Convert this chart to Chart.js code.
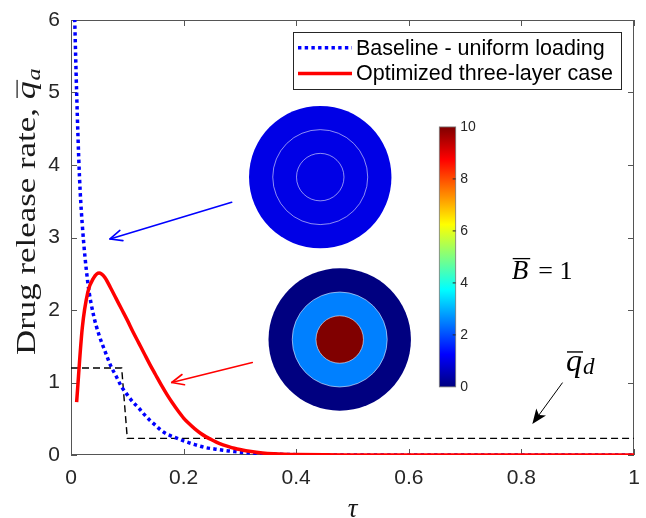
<!DOCTYPE html>
<html><head><meta charset="utf-8">
<script src="https://cdn.jsdelivr.net/npm/chart.js@4.4.1/dist/chart.umd.min.js"></script>
<style>html,body{margin:0;padding:0;background:#fff}canvas{display:block}</style>
</head><body>
<canvas id="c" width="646" height="518"></canvas>
<script>
// ---------- data ----------
const baselineTau = [0.006,0.01,0.015,0.02,0.03,0.04,0.05,0.06,0.07,0.08,0.09,0.10,0.11,0.12,0.13,0.14,0.15,0.16,0.17,0.18,0.19,0.20,0.21,0.22,0.23,0.24,0.25,0.26,0.27,0.28,0.29,0.30,0.32,0.34,0.36,0.38,0.40,0.45,0.50,0.60,0.70,0.80,0.90,1.00];
const baselineRate = [6.2,5.0,3.85,3.18,2.37,1.93,1.65,1.44,1.24,1.09,0.94,0.83,0.73,0.65,0.56,0.48,0.41,0.34,0.29,0.255,0.225,0.195,0.168,0.143,0.12,0.10,0.088,0.077,0.066,0.056,0.047,0.039,0.027,0.018,0.012,0.008,0.005,0.002,0.001,0,0,0,0,0];
const optimizedTau = [0.01,0.02,0.03,0.04,0.05,0.06,0.07,0.08,0.09,0.10,0.11,0.12,0.13,0.14,0.15,0.16,0.17,0.18,0.19,0.20,0.21,0.22,0.23,0.24,0.25,0.26,0.27,0.28,0.29,0.30,0.32,0.34,0.36,0.38,0.40,0.45,0.50,0.60,0.70,0.80,0.90,1.00];
const optimizedRate = [0.73,1.75,2.25,2.44,2.51,2.45,2.31,2.16,2.01,1.86,1.70,1.55,1.40,1.25,1.11,0.97,0.84,0.72,0.61,0.51,0.43,0.36,0.30,0.25,0.21,0.17,0.14,0.115,0.093,0.075,0.047,0.029,0.018,0.011,0.007,0.002,0.001,0,0,0,0,0];
const targetTau = [0, 0.09, 0.10, 1.0];
const targetRate = [1.2, 1.2, 0.23, 0.23];
const seriesNames = ['Baseline - uniform loading', 'Optimized three-layer case'];
const xTicks = [0, 0.2, 0.4, 0.6, 0.8, 1];
const xTickLabels = ['0', '0.2', '0.4', '0.6', '0.8', '1'];
const yTicks = [0, 1, 2, 3, 4, 5, 6];
const yTickLabels = ['0', '1', '2', '3', '4', '5', '6'];
const colorbarTicks = [0, 2, 4, 6, 8, 10];
const colorbarLabels = ['0', '2', '4', '6', '8', '10'];
const baselineLayers = [1, 1, 1];      // outer, middle, inner loading
const optimizedLayers = [0, 2.5, 10];  // outer, middle, inner loading
const paramLabel = 'B';
const paramValue = '= 1';
const targetLabel = 'q';
const targetSub = 'd';
const yTitleText = 'Drug release rate, ';
const yTitleSym = 'q';
const yTitleSub = 'a';
const xTitleText = 'τ';

// ---------- styling / layout ----------
const SANS = '"Liberation Sans", Arial, Helvetica, sans-serif';
const SERIF = '"Liberation Serif", "Times New Roman", serif';
const AX = '#262626';

function jet(v) {
  const t = Math.max(0, Math.min(1, v / 10));
  const c = x => Math.round(255 * Math.max(0, Math.min(1, 1.5 - Math.abs(x))));
  return `rgb(${c(4 * t - 3)},${c(4 * t - 2)},${c(4 * t - 1)})`;
}
function toXY(arrX, arrY) { return arrX.map((x, i) => ({ x, y: arrY[i] })); }

function arrow(ctx, x1, y1, x2, y2, color, lw, head, filled) {
  const a = Math.atan2(y2 - y1, x2 - x1);
  ctx.save();
  ctx.strokeStyle = color; ctx.fillStyle = color; ctx.lineWidth = lw; ctx.lineCap = 'round'; ctx.lineJoin = 'round';
  if (filled) {
    const bx = x2 - head * 0.75 * Math.cos(a), by = y2 - head * 0.75 * Math.sin(a);
    ctx.beginPath(); ctx.moveTo(x1, y1); ctx.lineTo(bx, by); ctx.stroke();
    const w = head * 0.4;
    const rx = x2 - head * Math.cos(a), ry = y2 - head * Math.sin(a);
    ctx.beginPath();
    ctx.moveTo(x2, y2);
    ctx.lineTo(rx + w * Math.sin(a), ry - w * Math.cos(a));
    ctx.lineTo(bx, by);
    ctx.lineTo(rx - w * Math.sin(a), ry + w * Math.cos(a));
    ctx.closePath(); ctx.fill();
  } else {
    ctx.beginPath(); ctx.moveTo(x1, y1); ctx.lineTo(x2, y2); ctx.stroke();
    const s = 0.42;
    ctx.beginPath();
    ctx.moveTo(x2 - head * Math.cos(a - s), y2 - head * Math.sin(a - s));
    ctx.lineTo(x2, y2);
    ctx.lineTo(x2 - head * Math.cos(a + s), y2 - head * Math.sin(a + s));
    ctx.stroke();
  }
  ctx.restore();
}

// inset / annotation anchors (in data units tau, q)
const anchors = {
  diskTop: [0.4427, 3.833],
  diskBottom: [0.4773, 1.593],
  cbarTopLeft: [0.6542, 4.525],
  cbarBottomRight: [0.6833, 0.9395],
  arrowBlue: [[0.2854, 3.485], [0.0693, 2.98]],
  arrowRed: [[0.322, 1.275], [0.1789, 1.0]],
  arrowBlack: [[0.8727, 0.9945], [0.8194, 0.426]],
  paramText: [0.7828, 2.428],
  targetText: [0.8792, 1.162]
};

const decorPlugin = {
  id: 'decor',
  beforeDatasetsDraw(chart) {
    const ctx = chart.ctx, ca = chart.chartArea, xs = chart.scales.x, ys = chart.scales.y;
    ctx.save();
    // box
    ctx.strokeStyle = '#555'; ctx.lineWidth = 1;
    ctx.strokeRect(Math.round(ca.left) + 0.5, Math.round(ca.top) + 0.5, Math.round(ca.right - ca.left) - 1, Math.round(ca.bottom - ca.top) - 1);
    // inward ticks
    ctx.beginPath();
    const tl = 6;
    xTicks.forEach(v => {
      const p = Math.round(xs.getPixelForValue(v)) + 0.5;
      ctx.moveTo(p, ca.bottom); ctx.lineTo(p, ca.bottom - tl);
      ctx.moveTo(p, ca.top); ctx.lineTo(p, ca.top + tl);
    });
    yTicks.forEach(v => {
      const p = Math.round(ys.getPixelForValue(v)) + 0.5;
      ctx.moveTo(ca.left, p); ctx.lineTo(ca.left + tl, p);
      ctx.moveTo(ca.right, p); ctx.lineTo(ca.right - tl, p);
    });
    ctx.stroke();

    // disks
    const P = (a) => [xs.getPixelForValue(a[0]), ys.getPixelForValue(a[1])];
    const R = 0.1265 * (ca.right - ca.left);
    const drawDisk = (c, layers) => {
      const [cx, cy] = P(c);
      [1, 2 / 3, 1 / 3].forEach((f, i) => {
        ctx.beginPath(); ctx.arc(cx, cy, R * f, 0, Math.PI * 2); ctx.fillStyle = jet(layers[i]); ctx.fill();
      });
      ctx.strokeStyle = 'rgba(255,255,255,0.55)'; ctx.lineWidth = 1;
      [2 / 3, 1 / 3].forEach(f => { ctx.beginPath(); ctx.arc(cx, cy, R * f, 0, Math.PI * 2); ctx.stroke(); });
    };
    drawDisk(anchors.diskTop, baselineLayers);
    drawDisk(anchors.diskBottom, optimizedLayers);

    // colorbar
    const [l, t] = P(anchors.cbarTopLeft), [r, b] = P(anchors.cbarBottomRight);
    const g = ctx.createLinearGradient(0, b, 0, t);
    for (let i = 0; i <= 64; i++) g.addColorStop(i / 64, jet(10 * i / 64));
    ctx.fillStyle = g; ctx.fillRect(l, t, r - l, b - t);
    ctx.strokeStyle = '#777'; ctx.lineWidth = 0.8; ctx.strokeRect(l, t, r - l, b - t);
    ctx.strokeStyle = AX; ctx.lineWidth = 1; ctx.beginPath();
    ctx.font = `14px ${SANS}`; ctx.fillStyle = AX; ctx.textAlign = 'left'; ctx.textBaseline = 'middle';
    colorbarTicks.forEach((v, i) => {
      const y = b - (v / 10) * (b - t);
      if (i > 0 && i < colorbarTicks.length - 1) { ctx.moveTo(r, y); ctx.lineTo(r - 3, y); }
      ctx.fillText(colorbarLabels[i], r + 4.5, y + 0.5);
    });
    ctx.stroke();

    // arrows
    const A = (pair) => [...P(pair[0]), ...P(pair[1])];
    arrow(ctx, ...A(anchors.arrowBlue), '#0000FF', 1.6, 13, false);
    arrow(ctx, ...A(anchors.arrowRed), '#FF0000', 1.6, 13, false);
    arrow(ctx, ...A(anchors.arrowBlack), '#000', 1.0, 15, true);

    // B = 1
    ctx.fillStyle = '#000'; ctx.textBaseline = 'alphabetic'; ctx.textAlign = 'left';
    let [bx, by] = P(anchors.paramText);
    ctx.font = `italic 27px ${SERIF}`;
    ctx.fillText(paramLabel, bx, by);
    const bw = ctx.measureText(paramLabel).width;
    ctx.fillRect(bx + 1, by - 21, bw + 1, 1.3);
    ctx.font = `26px ${SERIF}`;
    ctx.fillText(paramValue, bx + 26.5, by);

    // q_d
    let [qx, qy] = P(anchors.targetText);
    ctx.font = `italic 32px ${SERIF}`;
    ctx.fillText(targetLabel, qx, qy);
    const qw = ctx.measureText(targetLabel).width;
    ctx.fillRect(qx + 1, qy - 19.5, qw, 1.4);
    ctx.font = `italic 23px ${SERIF}`;
    ctx.fillText(targetSub, qx + qw + 1, qy + 2.8);

    // y title
    ctx.save();
    ctx.fillStyle = '#1a1a1a';
    ctx.translate(ca.left - 36, ca.bottom - 100);
    ctx.rotate(-Math.PI / 2);
    ctx.font = `27px ${SERIF}`;
    const w0 = ctx.measureText(yTitleText.trim()).width;
    ctx.scale(247 / w0, 1);
    ctx.fillText(yTitleText, 0, 0);
    let tx = ctx.measureText(yTitleText).width;
    ctx.font = `italic 28px ${SERIF}`;
    ctx.fillText(yTitleSym, tx, 0);
    const sw = ctx.measureText(yTitleSym).width;
    ctx.fillRect(tx + 1, -18.5, sw, 1.2);
    ctx.font = `italic 19px ${SERIF}`;
    ctx.fillText(yTitleSub, tx + sw + 0.5, 5);
    ctx.restore();

    // x title
    ctx.fillStyle = '#1a1a1a';
    ctx.font = `italic 27px ${SERIF}`; ctx.textAlign = 'center';
    ctx.fillText(xTitleText, (ca.left + ca.right) / 2, ca.bottom + 62);
    ctx.restore();
  },
  afterDatasetsDraw(chart) {
    const ctx = chart.ctx, ca = chart.chartArea;
    ctx.save();
    const lw = 328, lh = 57;
    const lx = ca.right - 13 - lw, ly = ca.top + 12;
    ctx.fillStyle = '#fff'; ctx.fillRect(lx, ly, lw, lh);
    ctx.strokeStyle = AX; ctx.lineWidth = 1; ctx.strokeRect(Math.round(lx) + 0.5, Math.round(ly) + 0.5, lw, lh);
    ctx.font = `21.5px ${SANS}`; ctx.textBaseline = 'middle'; ctx.textAlign = 'left';
    [0, 1].forEach(i => {
      const ds = chart.data.datasets[i];
      const y = ly + 15.7 + i * 25.8;
      ctx.save();
      ctx.strokeStyle = ds.borderColor; ctx.lineWidth = ds.borderWidth; ctx.setLineDash(ds.borderDash || []);
      ctx.lineCap = 'butt';
      ctx.beginPath(); ctx.moveTo(lx + 5, y); ctx.lineTo(lx + 59, y); ctx.stroke();
      ctx.restore();
      ctx.fillStyle = '#000';
      ctx.fillText(ds.label, lx + 63, y + 1);
    });
    ctx.restore();
  }
};

const noPad = s => { s.paddingLeft = 0; s.paddingRight = 0; s.paddingTop = 0; s.paddingBottom = 0; };

new Chart(document.getElementById('c'), {
  type: 'line',
  data: {
    datasets: [
      { label: seriesNames[0], data: toXY(baselineTau, baselineRate), borderColor: '#0000FF', borderWidth: 3.5,
        borderDash: [3.4, 3.3], borderCapStyle: 'butt', pointRadius: 0, cubicInterpolationMode: 'monotone', clip: 0, order: 2 },
      { label: seriesNames[1], data: toXY(optimizedTau, optimizedRate), borderColor: '#FF0000', borderWidth: 3.5,
        pointRadius: 0, cubicInterpolationMode: 'monotone', order: 1 },
      { label: '', data: toXY(targetTau, targetRate), borderColor: '#000', borderWidth: 1.4,
        borderDash: [7, 4], pointRadius: 0, tension: 0, order: 3 }
    ]
  },
  options: {
    responsive: false, animation: false, events: [],
    layout: { padding: { top: 20, right: 12, left: 0, bottom: 0 } },
    plugins: { legend: { display: false }, tooltip: { enabled: false } },
    scales: {
      x: {
        type: 'linear', min: 0, max: 1,
        afterBuildTicks: s => { s.ticks = xTicks.map(v => ({ value: v })); },
        afterFit: s => { s.height = 63; noPad(s); },
        grid: { display: false, drawTicks: false }, border: { display: false },
        ticks: { callback: (v, i) => xTickLabels[i], font: { family: SANS, size: 21 }, color: AX, padding: 11, maxRotation: 0 }
      },
      y: {
        type: 'linear', min: 0, max: 6,
        afterBuildTicks: s => { s.ticks = yTicks.map(v => ({ value: v })); },
        afterFit: s => { s.width = 71; noPad(s); },
        grid: { display: false, drawTicks: false }, border: { display: false },
        ticks: { callback: (v, i) => yTickLabels[i], font: { family: SANS, size: 21 }, color: AX, padding: 11 }
      }
    }
  },
  plugins: [decorPlugin]
});
</script>
</body></html>
